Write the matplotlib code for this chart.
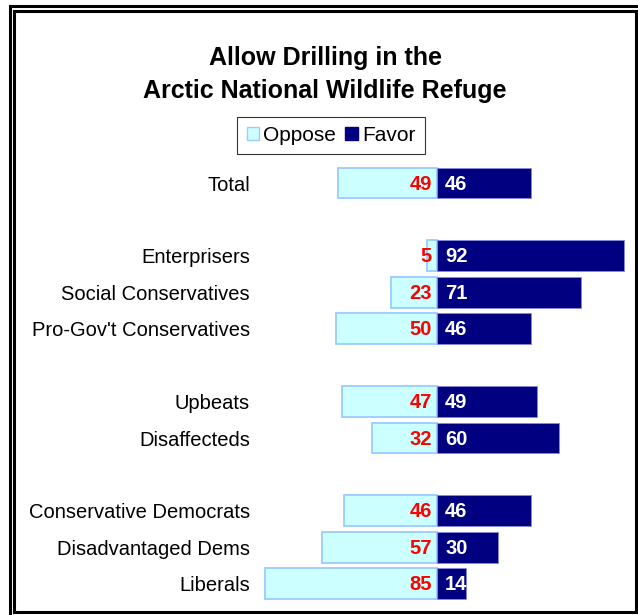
import matplotlib.pyplot as plt
from matplotlib.patches import Patch
from matplotlib.lines import Line2D

plt.rcParams['font.family'] = ['Liberation Sans', 'DejaVu Sans']

# rows, with blank spacer rows between the groups
groups = ['Total', '',
          'Enterprisers', 'Social Conservatives', "Pro-Gov't Conservatives", '',
          'Upbeats', 'Disaffecteds', '',
          'Conservative Democrats', 'Disadvantaged Dems', 'Liberals']
oppose = [49, None, 5, 23, 50, None, 47, 32, None, 46, 57, 85]
favor = [46, None, 92, 71, 46, None, 49, 60, None, 46, 30, 14]

W, H = 638, 615
fig = plt.figure(figsize=(W / 100, H / 100), dpi=100)


def fx(x):
    return x / W


def fy(y):
    return 1 - y / H


# axes placed in pixel terms: zero line at x=437, rows 36.4px apart
ax = fig.add_axes([fx(255), fy(605), fx(630) - fx(255), fy(160) - fy(605)])
scale = 2.03
ax.set_xlim(-(437.3 - 255) / scale, (630 - 437.3) / scale)
ax.set_ylim((605 - 183) / 36.43, (160 - 183) / 36.43)

rows = [i for i, g in enumerate(groups) if g]
opp = [oppose[i] for i in rows]
fav = [favor[i] for i in rows]

ax.barh(rows, [-v for v in opp], height=0.85, color='#CCFFFF',
        edgecolor='#99CCFF', linewidth=1.3)
ax.barh(rows, fav, height=0.85, color='#000080',
        edgecolor='#8888DD', linewidth=0.6)

for r, o, f in zip(rows, opp, fav):
    ax.text(-2.6, r + 0.03, str(o), ha='right', va='center', color='#FF0000',
            fontsize=14.5, fontweight='bold')
    ax.text(3.8, r + 0.03, str(f), ha='left', va='center', color='white',
            fontsize=14.5, fontweight='bold')

ax.set_yticks(rows)
ax.set_yticklabels([groups[i] for i in rows], fontsize=14.5)
ax.tick_params(axis='y', length=0, pad=3.6)
ax.set_xticks([])
for s in ax.spines.values():
    s.set_visible(False)

fig.text(0.5 + (325 - 319) / W, fy(65), 'Allow Drilling in the', ha='center',
         va='baseline', fontsize=18, fontweight='bold')
fig.text(0.5 + (325 - 319) / W, fy(98), 'Arctic National Wildlife Refuge',
         ha='center', va='baseline', fontsize=18, fontweight='bold')

handles = [Patch(facecolor='#CCFFFF', edgecolor='#99CCFF', label='Oppose'),
           Patch(facecolor='#000080', edgecolor='#000080', label='Favor')]
leg = fig.legend(handles=handles, loc='center', ncol=2,
                 bbox_to_anchor=(fx(331), fy(135.5)), fontsize=15,
                 frameon=True, fancybox=False, borderpad=0.45,
                 handlelength=0.6, handleheight=0.6, handletextpad=0.2,
                 columnspacing=0.45, borderaxespad=0)
leg.get_frame().set_edgecolor('black')
leg.get_frame().set_linewidth(0.8)

# double border around the chart
lw = 2.2
outer = [(9.5, 700), (9.5, 5.5), (700, 5.5)]
inner = [(14, 612), (14, 10.5), (635.5, 10.5), (635.5, 612), (14, 612)]
for pts in (outer, inner):
    fig.add_artist(Line2D([fx(p[0]) for p in pts], [fy(p[1]) for p in pts],
                          color='black', linewidth=lw,
                          solid_joinstyle='miter'))

fig.savefig('out.png', dpi=100)
